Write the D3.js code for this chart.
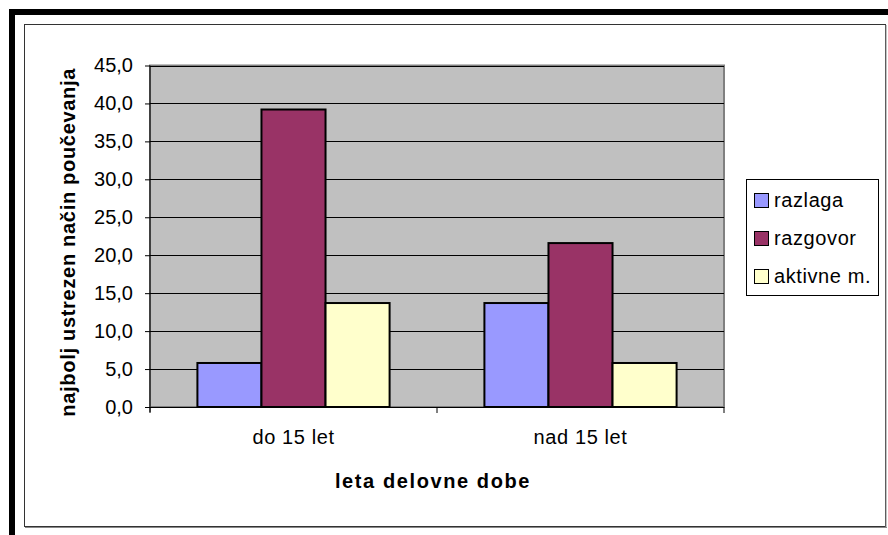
<!DOCTYPE html>
<meta charset="utf-8">
<style>
  body { margin: 0; background: #fff; }
  svg { display: block; font-family: "Liberation Sans", Arial, sans-serif; }
</style>
<body>
<script src="https://d3js.org/d3.v7.min.js"></script>
<script>
// data
var categories = ["do 15 let", "nad 15 let"];
var seriesNames = ["razlaga", "razgovor", "aktivne m."];
var razlaga = [5.8, 13.7];
var razgovor = [39.2, 21.6];
var aktivne = [13.7, 5.8];
var yTicks = [0, 5, 10, 15, 20, 25, 30, 35, 40, 45];
var colors = ["#9999FF", "#993366", "#FFFFCC"];

var values = [razlaga, razgovor, aktivne];

var svg = d3.select("body").append("svg")
    .attr("width", 888)
    .attr("height", 535);

// thick black outer border (top and left only visible)
svg.append("rect").attr("x", 9).attr("y", 9).attr("width", 879).attr("height", 6).attr("fill", "#000");
svg.append("rect").attr("x", 9).attr("y", 9).attr("width", 6).attr("height", 526).attr("fill", "#000");

// chart area frame
svg.append("rect")
    .attr("x", 24.5).attr("y", 24.5)
    .attr("width", 861).attr("height", 502)
    .attr("fill", "#fff")
    .attr("stroke", "#333").attr("stroke-width", 1);
svg.append("line").attr("x1", 886).attr("x2", 886).attr("y1", 25).attr("y2", 528).attr("stroke", "#888").attr("stroke-width", 1);
svg.append("line").attr("x1", 25).attr("x2", 887).attr("y1", 527.5).attr("y2", 527.5).attr("stroke", "#888").attr("stroke-width", 1);

var plot = {left: 150, top: 65.5, right: 724, bottom: 407};

var x = d3.scaleBand()
    .domain(categories)
    .range([plot.left, plot.right]);

var xInner = d3.scaleBand()
    .domain(seriesNames)
    .range([0, x.bandwidth()])
    .paddingOuter(0.74);

var y = d3.scaleLinear()
    .domain([0, 45])
    .range([plot.bottom, plot.top]);

// plot area
svg.append("rect")
    .attr("x", plot.left).attr("y", plot.top)
    .attr("width", plot.right - plot.left).attr("height", plot.bottom - plot.top)
    .attr("fill", "#C0C0C0")
    .attr("stroke", "#808080").attr("stroke-width", 2);

// gridlines
svg.append("g").selectAll("line")
    .data(yTicks.filter(function(d) { return d > 0; }))
    .join("line")
    .attr("x1", plot.left).attr("x2", plot.right)
    .attr("y1", function(d) { return Math.round(y(d)) + 0.5; })
    .attr("y2", function(d) { return Math.round(y(d)) + 0.5; })
    .attr("stroke", "#000").attr("stroke-width", 1);

// bars
var groups = svg.append("g").selectAll("g")
    .data(categories)
    .join("g")
    .attr("transform", function(d) { return "translate(" + x(d) + ",0)"; });

groups.selectAll("rect")
    .data(function(c, i) {
      return seriesNames.map(function(s, j) { return {s: s, v: values[j][i], c: colors[j]}; });
    })
    .join("rect")
    .attr("x", function(d) { return xInner(d.s); })
    .attr("y", function(d) { return y(d.v); })
    .attr("width", xInner.bandwidth())
    .attr("height", function(d) { return plot.bottom - y(d.v); })
    .attr("fill", function(d) { return d.c; })
    .attr("stroke", "#000").attr("stroke-width", 2);

// y axis
var yAxis = svg.append("g")
    .attr("transform", "translate(" + plot.left + ",0)")
    .call(d3.axisLeft(y).tickValues(yTicks).tickSize(5).tickPadding(12)
      .tickFormat(function(d) { return d3.format(".1f")(d).replace(".", ","); }));
yAxis.select(".domain").attr("stroke", "#000").attr("d", "M0," + plot.top + "V" + (plot.bottom + 5));
yAxis.selectAll(".tick line").attr("stroke", "#000");
yAxis.selectAll("text").attr("font-size", 20).attr("fill", "#000").attr("font-family", "Liberation Sans, Arial");

// x axis
svg.append("line").attr("x1", plot.left).attr("x2", plot.right)
    .attr("y1", plot.bottom + 0.5).attr("y2", plot.bottom + 0.5).attr("stroke", "#000");
var xAxis = svg.append("g")
    .attr("transform", "translate(0," + plot.bottom + ")")
    .call(d3.axisBottom(x).tickSize(0).tickPadding(23));
xAxis.select(".domain").remove();
xAxis.selectAll("text").attr("font-size", 20).attr("letter-spacing", 0.6)
    .attr("fill", "#000").attr("font-family", "Liberation Sans, Arial");
svg.append("g").selectAll("line")
    .data([plot.left, x(categories[1]), plot.right])
    .join("line")
    .attr("x1", function(d) { return d; }).attr("x2", function(d) { return d; })
    .attr("y1", plot.bottom).attr("y2", plot.bottom + 6)
    .attr("stroke", "#000");

// axis titles
svg.append("text")
    .attr("x", (plot.left + plot.right) / 2 - 4).attr("y", 488)
    .attr("text-anchor", "middle")
    .attr("font-size", 20).attr("font-weight", "bold").attr("letter-spacing", 1.6)
    .text("leta delovne dobe");

svg.append("text")
    .attr("transform", "translate(75," + ((plot.top + plot.bottom) / 2 + 6) + ") rotate(-90)")
    .attr("text-anchor", "middle")
    .attr("font-size", 20).attr("font-weight", "bold").attr("letter-spacing", 0.7)
    .text("najbolj ustrezen način poučevanja");

// legend
var legend = svg.append("g");
legend.append("rect")
    .attr("x", 746.5).attr("y", 179.5).attr("width", 132).attr("height", 116)
    .attr("fill", "#fff").attr("stroke", "#000");
var items = legend.selectAll("g")
    .data(seriesNames)
    .join("g")
    .attr("transform", function(d, i) { return "translate(754," + (200 + i * 38) + ")"; });
items.append("rect")
    .attr("x", 0.5).attr("y", -6.5).attr("width", 14).attr("height", 14)
    .attr("fill", function(d, i) { return colors[i]; })
    .attr("stroke", "#000").attr("stroke-width", 1);
items.append("text")
    .attr("x", 20).attr("y", 7)
    .attr("font-size", 20).attr("letter-spacing", 0.6)
    .text(function(d) { return d; });
</script>
</body>
